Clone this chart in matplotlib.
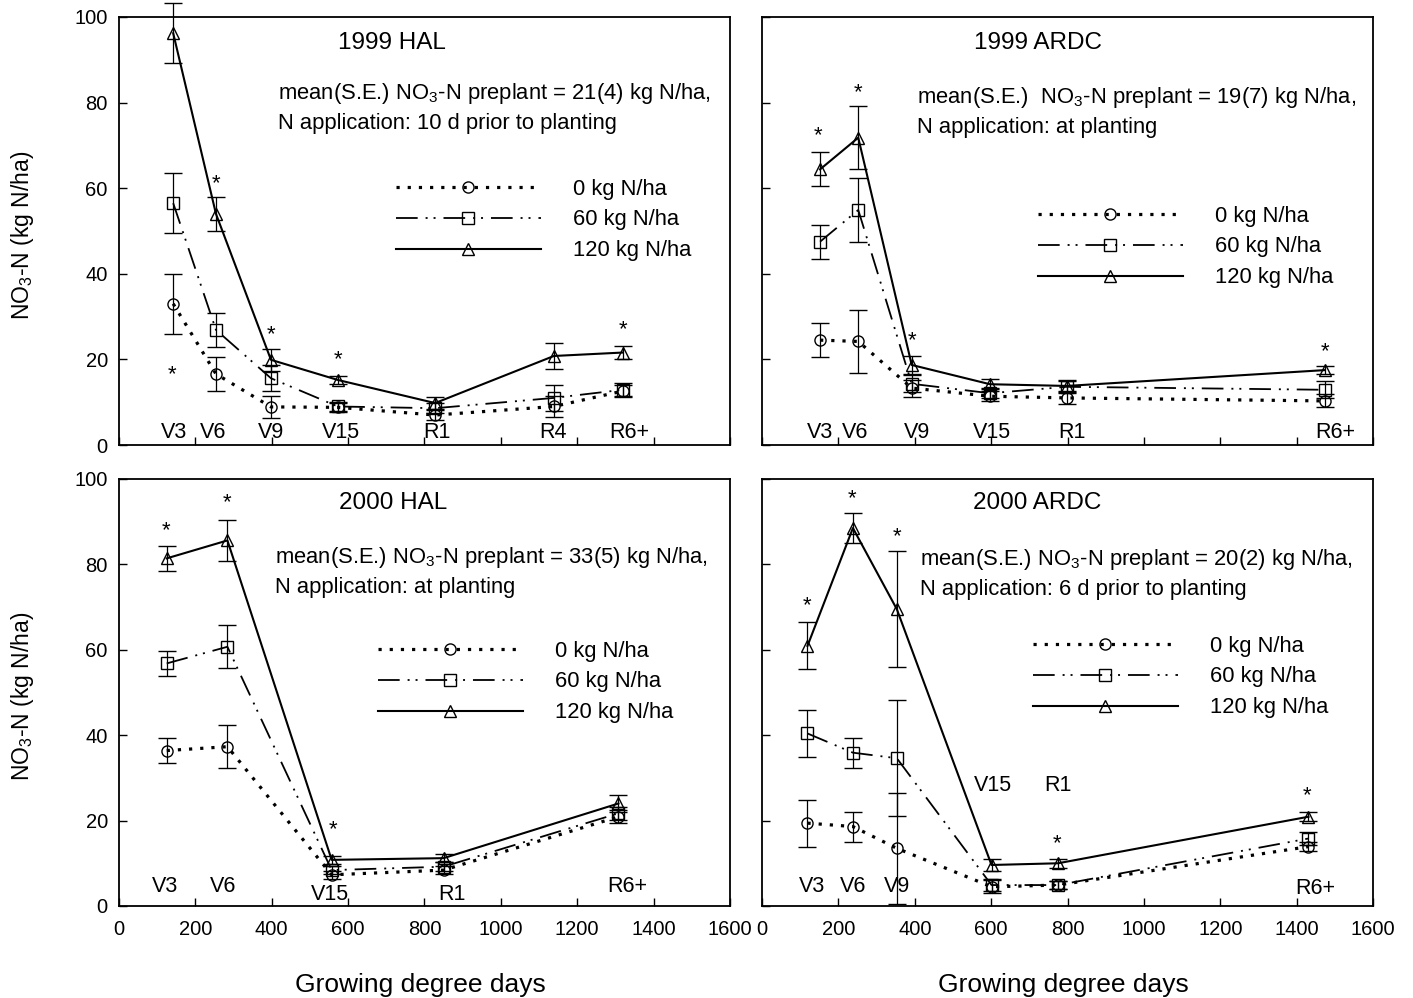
import matplotlib
matplotlib.use('Agg')
import matplotlib.pyplot as plt
import matplotlib.transforms as mtransforms

plt.rcParams['font.family'] = ['Liberation Sans', 'DejaVu Sans']
plt.rcParams['mathtext.fontset'] = 'custom'
plt.rcParams['mathtext.rm'] = 'Liberation Sans'
plt.rcParams['mathtext.it'] = 'Liberation Sans:italic'
plt.rcParams['mathtext.bf'] = 'Liberation Sans:bold'
plt.rcParams['mathtext.default'] = 'regular'

# ---------------- data ----------------
series_labels = ['0 kg N/ha', '60 kg N/ha', '120 kg N/ha']
x_ticks = [0, 200, 400, 600, 800, 1000, 1200, 1400, 1600]
y_ticks = [0, 20, 40, 60, 80, 100]

# 1999 HAL
hal99_gdd = [142, 254, 398, 573, 828, 1139, 1319]
hal99_n0 = [33.0, 16.6, 8.9, 8.8, 7.0, 9.0, 12.6]
hal99_n0_se = [7.0, 4.0, 2.5, 1.0, 1.2, 2.5, 1.5]
hal99_n60 = [56.5, 26.9, 15.6, 9.0, 8.6, 11.0, 12.9]
hal99_n60_se = [7.0, 4.0, 3.0, 1.0, 1.2, 3.0, 1.5]
hal99_n120 = [96.2, 54.0, 19.9, 15.2, 9.8, 20.8, 21.6]
hal99_n120_se = [7.0, 4.0, 2.5, 1.0, 1.5, 3.0, 1.5]
hal99_stages = ['V3', 'V6', 'V9', 'V15', 'R1', 'R4', 'R6+']
hal99_stage_gdd = [144, 246, 397, 581, 833, 1137, 1336]
hal99_stage_y = [3, 3, 3, 3, 3, 3, 3]
hal99_star_gdd = [138, 254, 398, 573, 1319]
hal99_star_y = [18.0, 62.7, 27.3, 21.6, 28.5]

# 1999 ARDC
ardc99_gdd = [152, 252, 392, 597, 798, 1474]
ardc99_n0 = [24.5, 24.2, 13.3, 11.4, 11.0, 10.3]
ardc99_n0_se = [4.0, 7.3, 2.0, 1.2, 1.5, 1.5]
ardc99_n60 = [47.5, 54.9, 14.3, 12.1, 13.6, 12.9]
ardc99_n60_se = [4.0, 7.5, 2.0, 1.2, 1.5, 2.0]
ardc99_n120 = [64.4, 71.8, 18.7, 14.2, 13.8, 17.5]
ardc99_n120_se = [4.0, 7.3, 2.0, 1.2, 1.2, 1.0]
ardc99_stages = ['V3', 'V6', 'V9', 'V15', 'R1', 'R6+']
ardc99_stage_gdd = [152, 244, 405, 602, 811, 1501]
ardc99_stage_y = [3, 3, 3, 3, 3, 3]
ardc99_star_gdd = [147, 252, 392, 1474]
ardc99_star_y = [74.0, 83.9, 26.1, 23.4]

# 2000 HAL
hal00_gdd = [125, 284, 557, 850, 1308]
hal00_n0 = [36.4, 37.3, 7.3, 8.4, 20.9]
hal00_n0_se = [3.0, 5.0, 1.0, 1.0, 1.5]
hal00_n60 = [56.8, 60.7, 8.4, 9.2, 21.7]
hal00_n60_se = [3.0, 5.0, 1.0, 1.0, 1.5]
hal00_n120 = [81.4, 85.6, 10.8, 11.2, 24.0]
hal00_n120_se = [3.0, 4.7, 1.0, 1.0, 2.0]
hal00_stages = ['V3', 'V6', 'V15', 'R1', 'R6+']
hal00_stage_gdd = [120, 272, 553, 871, 1330]
hal00_stage_y = [4.5, 4.5, 2.6, 2.8, 4.5]
hal00_star_gdd = [123, 283, 561]
hal00_star_y = [89.6, 96.0, 19.4]

# 2000 ARDC
ardc00_gdd = [119, 238, 353, 601, 775, 1431]
ardc00_n0 = [19.4, 18.6, 13.5, 4.5, 4.9, 13.9]
ardc00_n0_se = [5.5, 3.5, 13.0, 1.5, 1.0, 1.0]
ardc00_n60 = [40.4, 35.9, 34.6, 4.9, 4.9, 15.8]
ardc00_n60_se = [5.5, 3.5, 13.6, 1.5, 1.0, 1.5]
ardc00_n120 = [60.9, 88.5, 69.5, 9.6, 10.0, 20.9]
ardc00_n120_se = [5.5, 3.5, 13.6, 1.5, 1.0, 1.0]
ardc00_stages = ['V3', 'V6', 'V9', 'V15', 'R1', 'R6+']
ardc00_stage_gdd = [130, 238, 353, 606, 776, 1448]
ardc00_stage_y = [4.5, 4.5, 4.5, 28.3, 28.3, 4.1]
ardc00_star_gdd = [119, 235, 353, 772, 1427]
ardc00_star_y = [72.0, 97.0, 88.0, 16.2, 27.5]

titles = ['1999 HAL', '1999 ARDC', '2000 HAL', '2000 ARDC']
notes1 = ['mean(S.E.) NO$_3$-N preplant = 21(4) kg N/ha,',
          'mean(S.E.)  NO$_3$-N preplant = 19(7) kg N/ha,',
          'mean(S.E.) NO$_3$-N preplant = 33(5) kg N/ha,',
          'mean(S.E.) NO$_3$-N preplant = 20(2) kg N/ha,']
notes2 = ['N application: 10 d prior to planting',
          'N application: at planting',
          'N application: at planting',
          'N application: 6 d prior to planting']
y_label = 'NO$_3$-N (kg N/ha)'
x_label = 'Growing degree days'

# ---------------- layout / style ----------------
W, H = 1413, 998
fig = plt.figure(figsize=(W / 100, H / 100), dpi=100)

ax_rects = [[0.0842, 0.5541, 0.4324, 0.4289],
            [0.5393, 0.5541, 0.4324, 0.4289],
            [0.0842, 0.0922, 0.4324, 0.4279],
            [0.5393, 0.0922, 0.4324, 0.4279]]
title_pos = [(0.447, 0.940), (0.452, 0.940), (0.448, 0.943), (0.450, 0.943)]
note_pos = [(0.2610, 0.8217, 0.7516), (0.2530, 0.8107, 0.7407),
            (0.2560, 0.8150, 0.7447), (0.2590, 0.8103, 0.7400)]
leg_pos = [(0.4533, 0.5257), (0.4517, 0.4626), (0.4239, 0.5246), (0.4435, 0.5363)]

panels = [
    (hal99_gdd, hal99_n0, hal99_n0_se, hal99_n60, hal99_n60_se, hal99_n120, hal99_n120_se,
     hal99_stages, hal99_stage_gdd, hal99_stage_y, hal99_star_gdd, hal99_star_y),
    (ardc99_gdd, ardc99_n0, ardc99_n0_se, ardc99_n60, ardc99_n60_se, ardc99_n120, ardc99_n120_se,
     ardc99_stages, ardc99_stage_gdd, ardc99_stage_y, ardc99_star_gdd, ardc99_star_y),
    (hal00_gdd, hal00_n0, hal00_n0_se, hal00_n60, hal00_n60_se, hal00_n120, hal00_n120_se,
     hal00_stages, hal00_stage_gdd, hal00_stage_y, hal00_star_gdd, hal00_star_y),
    (ardc00_gdd, ardc00_n0, ardc00_n0_se, ardc00_n60, ardc00_n60_se, ardc00_n120, ardc00_n120_se,
     ardc00_stages, ardc00_stage_gdd, ardc00_stage_y, ardc00_star_gdd, ardc00_star_y),
]

styles = [
    dict(marker='o', ms=8, lw=2.3, dashes=(1.0, 2.5)),
    dict(marker='s', ms=8, lw=1.3, dashes=(12, 4.4, 1.1, 3.3, 1.1, 4.4)),
    dict(marker='^', ms=9, lw=1.5, dashes=None),
]

star_offset = mtransforms.ScaledTranslation(0, -9.0 / 72, fig.dpi_scale_trans)

for i, (rect, pdata) in enumerate(zip(ax_rects, panels)):
    (gdd, n0, n0se, n60, n60se, n120, n120se,
     stages, st_gdd, st_y, sgdd, sy) = pdata
    ax = fig.add_axes(rect)
    handles = []
    for vals, se, st in zip([n0, n60, n120], [n0se, n60se, n120se], styles):
        cont = ax.errorbar(gdd, vals, yerr=se, color='black', marker=st['marker'],
                           ms=st['ms'], mfc='none', mec='black', mew=1.0,
                           lw=st['lw'], elinewidth=0.9, capsize=6.5, capthick=0.9,
                           clip_on=False, zorder=3)
        line = cont.lines[0]
        if st['dashes'] is not None:
            line.set_dashes(st['dashes'])
        handles.append(line)

    ax.set_xlim(0, 1600)
    ax.set_ylim(0, 100)
    ax.set_xticks(x_ticks)
    ax.set_yticks(y_ticks)
    ax.tick_params(direction='in', length=6, width=1.0, labelsize=14.5,
                   top=False, right=False)
    ax.tick_params(axis='y', pad=8)
    ax.tick_params(axis='x', pad=10)
    for sp in ax.spines.values():
        sp.set_linewidth(1.3)
    if i in (0, 1):
        ax.tick_params(axis='x', labelbottom=False)
    if i in (1, 3):
        ax.tick_params(axis='y', labelleft=False)

    for lab, xg, yv in zip(stages, st_gdd, st_y):
        ax.text(xg, yv, lab, ha='center', va='center', fontsize=15.5)
    for xg, yv in zip(sgdd, sy):
        ax.text(xg, yv, '*', ha='center', va='baseline', fontsize=16,
                transform=ax.transData + star_offset)

    ax.text(title_pos[i][0], title_pos[i][1], titles[i], transform=ax.transAxes,
            ha='center', va='center', fontsize=17.5)
    nx, ny1, ny2 = note_pos[i]
    ax.text(nx, ny1, notes1[i], transform=ax.transAxes, ha='left', va='center', fontsize=15.8)
    ax.text(nx, ny2, notes2[i], transform=ax.transAxes, ha='left', va='center', fontsize=15.8)

    ax.legend(handles, series_labels, loc='center left', bbox_to_anchor=leg_pos[i],
              frameon=False, fontsize=15.8, handlelength=6.6, handletextpad=1.45,
              labelspacing=0.45, borderpad=0, borderaxespad=0, numpoints=1)

fig.text(23 / W, 1 - 235 / H, y_label, rotation=90, ha='center', va='center', fontsize=16.5)
fig.text(23 / W, 1 - 696 / H, y_label, rotation=90, ha='center', va='center', fontsize=16.5)
fig.text(420 / W, 1 - 985 / H, x_label, ha='center', va='center', fontsize=19)
fig.text(1063 / W, 1 - 985 / H, x_label, ha='center', va='center', fontsize=19)

fig.savefig('out.png', dpi=100)
